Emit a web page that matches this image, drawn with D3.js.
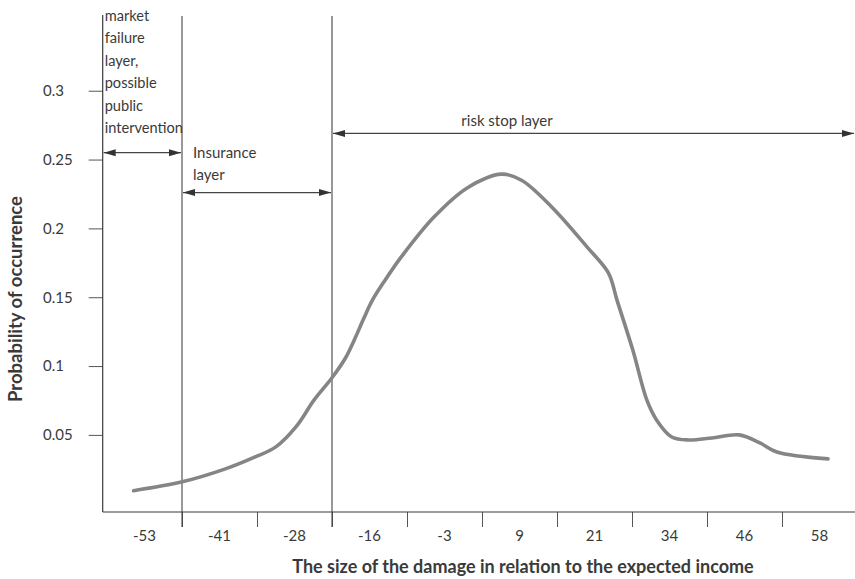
<!DOCTYPE html>
<html>
<head>
<meta charset="utf-8">
<script src="https://cdn.jsdelivr.net/npm/d3@7"></script>
<style>
  html, body { margin: 0; padding: 0; background: #fff; }
  svg { display: block; font-family: Lato, "Open Sans", sans-serif; }
</style>
</head>
<body>
<svg id="chart" width="855" height="579"></svg>
<script>
// ---- data ----
const categories = ["-53", "-41", "-28", "-16", "-3", "9", "21", "34", "46", "58"];
const categoryValues = [-53, -41, -28, -16, -3, 9, 21, 34, 46, 58];
const yTickValues = [0.05, 0.1, 0.15, 0.2, 0.25, 0.3];
const damage = [-54.8, -46.8, -39.7, -34.8, -31.4, -28.1, -25.1, -22.2, -20.0, -18.5,
                -17.0, -15.5, -13.5, -10.8, -5.4, 0.0, 5.7, 9.0, 14.0, 19.8,
                23.3, 24.7, 27.3, 29.6, 31.2, 33.7, 36.5, 40.3, 44.8, 48.2,
                51.0, 59.4];
const probability = [0.0095, 0.0159, 0.0253, 0.0340, 0.0413, 0.0558, 0.0754, 0.0913, 0.1055, 0.1190,
                     0.1340, 0.1480, 0.1620, 0.1791, 0.2082, 0.2292, 0.2394, 0.2350, 0.2154, 0.1864,
                     0.1675, 0.1479, 0.1116, 0.0754, 0.0609, 0.0485, 0.0463, 0.0478, 0.0500, 0.0442,
                     0.0376, 0.0326];
// layer spans in category-boundary units (0 = left edge of first category)
const layerNames = ["market failure layer, possible public intervention", "Insurance layer", "risk stop layer"];
const layerFrom = [0, 1, 3];
const layerTo = [1, 3, 10];
const layerLevel = [0.255, 0.226, 0.269];
const boundaryLines = [1, 3];

(function () {
// ---- layout ----
const mLeft = 102.7, mRight = 855, mTop = 15, mBottom = 512;
const bandStart = 107, bandEnd = 857;
const textColor = "#3a3a3a";
const lineColor = "#3a3a3a";

const svg = d3.select("#chart");

const xIdx = d3.scaleLinear().domain([0, categories.length]).range([bandStart, bandEnd]);
const xBand = d3.scaleBand().domain(categories).range([bandStart, bandEnd]).padding(0);
const xVal = d3.scaleLinear()
  .domain([categoryValues[0], categoryValues[categoryValues.length - 1]])
  .range([xIdx(0.5), xIdx(categories.length - 0.5)]);
const y = d3.scaleLinear().domain([-0.006, 0.355]).range([mBottom, mTop]);

// arrow markers
const defs = svg.append("defs");
["start", "end"].forEach(k => {
  defs.append("marker")
    .attr("id", "arrow-" + k)
    .attr("viewBox", "0 0 12 8")
    .attr("refX", k === "end" ? 12 : 0)
    .attr("refY", 4)
    .attr("markerUnits", "userSpaceOnUse")
    .attr("markerWidth", 13)
    .attr("markerHeight", 8)
    .attr("orient", "auto")
    .append("path")
    .attr("d", k === "end" ? "M0,0.5 L12,4 L0,7.5 Z" : "M12,0.5 L0,4 L12,7.5 Z")
    .attr("fill", "#333");
});

// y axis
const yAxis = d3.axisLeft(y).tickValues(yTickValues).tickSize(14).tickSizeOuter(0)
  .tickFormat(d => String(+d.toFixed(2)));
const gy = svg.append("g").attr("transform", `translate(${mLeft},0)`).call(yAxis);
gy.select(".domain").remove();
gy.selectAll(".tick line").attr("stroke", "#555").attr("stroke-width", 1);
gy.selectAll(".tick text")
  .attr("x", 43 - mLeft).attr("text-anchor", "start")
  .attr("fill", textColor).style("font-size", "15px").style("font-family", "Lato, sans-serif");
svg.append("line").attr("x1", mLeft).attr("x2", mLeft).attr("y1", mTop).attr("y2", mBottom)
  .attr("stroke", lineColor).attr("stroke-width", 1.2);

// x axis: ticks at category boundaries
const xAxis = d3.axisBottom(xIdx).tickValues(d3.range(1, categories.length)).tickSize(15)
  .tickSizeOuter(0).tickFormat("");
const gx = svg.append("g").attr("transform", `translate(0,${mBottom})`).call(xAxis);
gx.select(".domain").remove();
gx.selectAll(".tick line").attr("stroke", "#555");
svg.append("line").attr("x1", mLeft).attr("x2", mRight).attr("y1", mBottom).attr("y2", mBottom)
  .attr("stroke", lineColor).attr("stroke-width", 1.2);
svg.append("g").selectAll("text").data(categories).join("text")
  .attr("x", d => xBand(d) + xBand.bandwidth() / 2)
  .attr("y", 541)
  .attr("text-anchor", "middle")
  .attr("fill", textColor)
  .style("font-size", "15px")
  .text(d => d);

// boundary lines
svg.append("g").selectAll("line").data(boundaryLines).join("line")
  .attr("x1", d => xIdx(d)).attr("x2", d => xIdx(d))
  .attr("y1", mTop + 1).attr("y2", mBottom + 15)
  .attr("stroke", "#444").attr("stroke-width", 1.1);

// curve
const pts = damage.map((d, i) => [d, probability[i]]);
const line = d3.line().x(d => xVal(d[0])).y(d => y(d[1])).curve(d3.curveCatmullRom.alpha(0.5));
svg.append("path").attr("d", line(pts))
  .attr("fill", "none").attr("stroke", "#858585").attr("stroke-width", 3.6)
  .attr("stroke-linecap", "round").attr("stroke-linejoin", "round");

// layer arrows
svg.append("g").selectAll("line").data(layerNames).join("line")
  .attr("x1", (d, i) => (layerFrom[i] === 0 ? mLeft : xIdx(layerFrom[i])) + 1)
  .attr("x2", (d, i) => (layerTo[i] === categories.length ? mRight : xIdx(layerTo[i])) - 1)
  .attr("y1", (d, i) => y(layerLevel[i]))
  .attr("y2", (d, i) => y(layerLevel[i]))
  .attr("stroke", "#444").attr("stroke-width", 1.2)
  .attr("marker-start", "url(#arrow-start)")
  .attr("marker-end", "url(#arrow-end)");

// layer labels
const ann = svg.append("g").attr("fill", textColor).style("font-size", "15px");
const mfLines = ["market", "failure", "layer,", "possible", "public", "intervention"];
ann.append("text").attr("x", mLeft + 2).attr("y", 21).style("font-size", "14.6px")
  .selectAll("tspan").data(mfLines).join("tspan")
  .attr("x", mLeft + 2).attr("dy", (d, i) => i === 0 ? 0 : 22.4).text(d => d);
const insLines = ["Insurance", "layer"];
ann.append("text").attr("x", xIdx(1) + 11).attr("y", 158)
  .selectAll("tspan").data(insLines).join("tspan")
  .attr("x", xIdx(1) + 11).attr("dy", (d, i) => i === 0 ? 0 : 22.4).text(d => d);
ann.append("text").attr("x", 507).attr("y", 126).attr("text-anchor", "middle")
  .text(layerNames[2]);

// axis titles
svg.append("text").attr("x", 523).attr("y", 573).attr("text-anchor", "middle")
  .attr("fill", textColor).style("font-size", "18px").style("font-weight", "bold")
  .text("The size of the damage in relation to the expected income");
svg.append("text").attr("transform", "translate(22,299) rotate(-90)").attr("text-anchor", "middle")
  .attr("fill", textColor).style("font-size", "18.5px").style("font-weight", "bold")
  .text("Probability of occurrence");
})();
</script>
</body>
</html>
